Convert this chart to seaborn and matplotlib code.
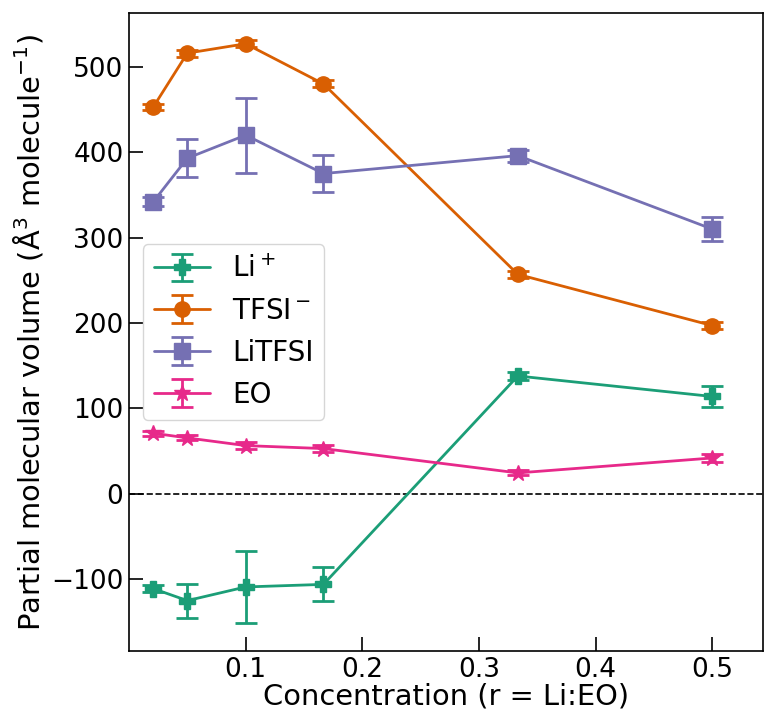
import numpy as np
import matplotlib
matplotlib.use("Agg")
import matplotlib.pyplot as plt
import seaborn as sns

conc = [1/48, 1/20, 1/10, 1/6, 1/3, 1/2]

li_vals = [-111, -125, -109, -106, 138, 114]
li_err = [4, 20, 42, 20, 5, 12]
tfsi_vals = [453, 516, 527, 480, 257, 197]
tfsi_err = [4, 4, 4, 4, 4, 4]
litfsi_vals = [342, 393, 420, 375, 396, 310]
litfsi_err = [5, 22, 44, 22, 7, 14]
eo_vals = [71, 65.5, 56.5, 53, 24.5, 42]
eo_err = [3, 3, 4, 4, 3, 5]

labels = [r"Li$^+$", r"TFSI$^-$", "LiTFSI", "EO"]
markers = ["P", "o", "s", "*"]

sns.set_style("ticks")
plt.rcParams["font.family"] = ["DejaVu Sans"]
plt.rcParams.update({"text.color": "black", "axes.labelcolor": "black",
                     "xtick.color": "black", "ytick.color": "black",
                     "axes.edgecolor": "black"})
pal = sns.color_palette("Dark2")

fig = plt.figure(figsize=(7.64, 7.13), dpi=100)
ax = fig.add_axes([129/764, 62/713, (763-129)/764, (651-13)/713])

series = [(li_vals, li_err), (tfsi_vals, tfsi_err), (litfsi_vals, litfsi_err), (eo_vals, eo_err)]
for i, ((v, e), lab, m) in enumerate(zip(series, labels, markers)):
    ax.errorbar(conc, v, yerr=e, color=pal[i], marker=m, markersize=11 if m != "*" else 12,
                lw=2, elinewidth=2, capsize=8, capthick=2, label=lab)

ax.axhline(0, color="black", ls="--", lw=1.2)
ax.set_xlim(0, 0.5435)
ax.set_ylim(-184, 563)
ax.set_xticks([0.1, 0.2, 0.3, 0.4, 0.5])
ax.set_yticks([-100, 0, 100, 200, 300, 400, 500])
ax.tick_params(direction="in", length=10, width=1.2, labelsize=19, pad=4)
for s in ax.spines.values():
    s.set_visible(True)
    s.set_linewidth(1.2)
    s.set_color("black")
ax.set_xlabel("Concentration (r = Li:EO)", fontsize=20.8, labelpad=0)
ax.set_ylabel(r"Partial molecular volume (Å$^3$ molecule$^{-1}$)", fontsize=20.8, labelpad=4)
ax.legend(loc="center left", fontsize=20, frameon=True,
          handlelength=2.0, borderpad=0.4, labelspacing=0.5)

fig.savefig("out.png", dpi=100)
